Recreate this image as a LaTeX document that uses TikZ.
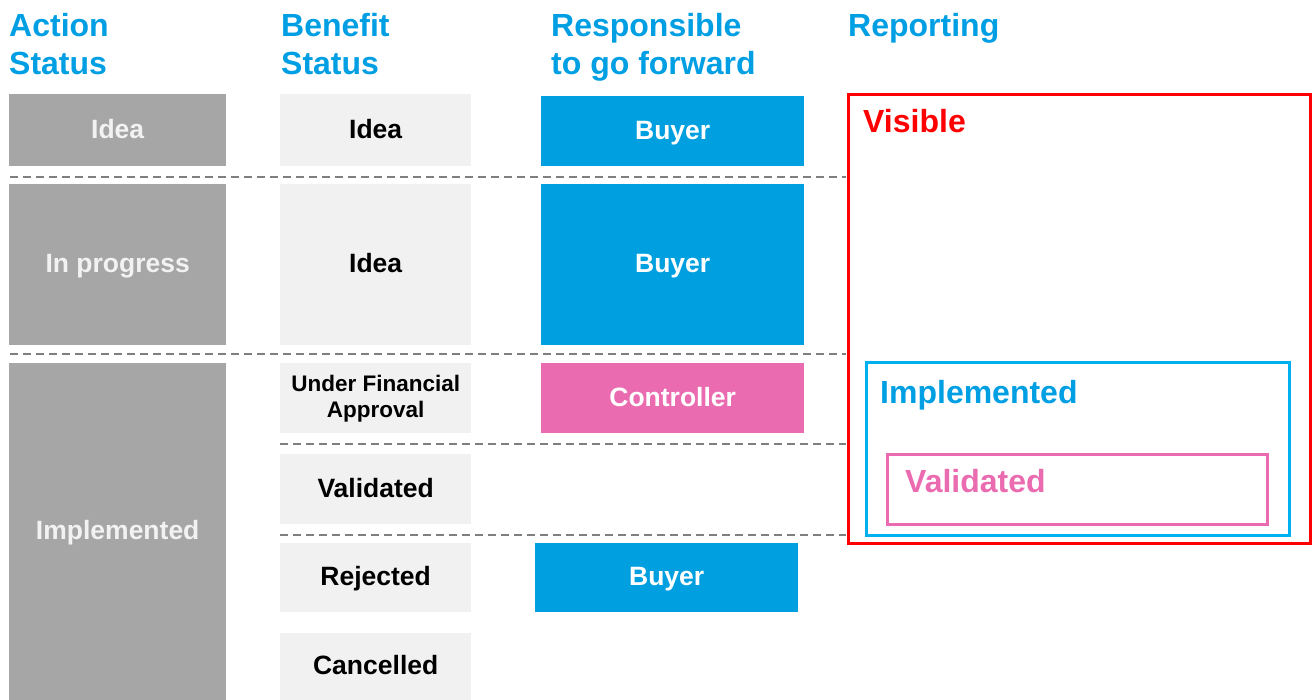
\documentclass[tikz,border=0pt]{standalone}
\usepackage{fontspec}
\setmainfont{Liberation Sans}
\setsansfont{Liberation Sans}
\usetikzlibrary{positioning}
\definecolor{headblue}{HTML}{009FE3}
\definecolor{actgray}{HTML}{A6A6A6}
\definecolor{acttext}{HTML}{F2F2F2}
\definecolor{benlight}{HTML}{F1F1F1}
\definecolor{buyerblue}{HTML}{009FE0}
\definecolor{ctrlpink}{HTML}{EA6BB0}
\definecolor{sepgray}{HTML}{7F7F7F}
\definecolor{visred}{HTML}{FF0000}
\definecolor{implblue}{HTML}{00B0F0}
\tikzset{
 heading/.style={
 anchor=north west,
 inner sep=0pt,
 align=left,
 text=headblue,
 font=\bfseries\fontsize{32}{38}\selectfont},
 actstatus/.style={
 rectangle,
 fill=actgray,
 text=acttext,
 anchor=north west,
 inner sep=0pt,
 minimum width=217pt,
 text height=16pt,
 text depth=0pt,
 font=\bfseries\fontsize{26.5}{30}\selectfont},
 benstatus/.style={
 rectangle,
 fill=benlight,
 text=black,
 anchor=north west,
 inner sep=0pt,
 minimum width=191pt,
 text height=16pt,
 text depth=0pt,
 align=center,
 font=\bfseries\fontsize{26.5}{30}\selectfont},
 respbox/.style={
 rectangle,
 fill=#1,
 text=white,
 anchor=north west,
 inner sep=0pt,
 minimum width=263pt,
 text height=16pt,
 text depth=0pt,
 font=\bfseries\fontsize{26.5}{30}\selectfont},
 separator/.style={
 draw=sepgray,
 line width=1.6pt,
 dash pattern=on 8pt off 5pt},
 reportframe/.style={
 draw=#1,
 line width=3pt},
 framelabel/.style={
 anchor=base west,
 inner sep=0pt,
 text=#1,
 font=\bfseries\fontsize{32}{36}\selectfont}
}
\begin{document}
\begin{tikzpicture}[x=1pt,y=-1pt]
 \useasboundingbox (0,0) rectangle (1312,700);

 % column headings
 \node[heading] (acthead) at (9,13) {Action\\Status};
 \node[heading] (benhead) at (281,13) {Benefit\\Status};
 \node[heading] (resphead) at (551,13) {Responsible\\to go forward};
 \node[heading] (rephead) at (848,13) {Reporting};

 % action status
 \node[actstatus, minimum height=72pt] (actidea) at (9,94) {Idea};
 \node[actstatus, minimum height=161pt] (actprog) at (9,184) {In progress};
 \node[actstatus, minimum height=337pt] (actimpl) at (9,363) {Implemented};

 % benefit status
 \node[benstatus, minimum height=72pt] (benidea) at (280,94) {Idea};
 \node[benstatus, minimum height=161pt] (benprog) at (280,184) {Idea};
 \node[benstatus, minimum height=70pt, text height={}, text depth={}, font=\bfseries\fontsize{22.5}{26}\selectfont] (benufa) at (280,363) {Under Financial\\Approval};
 \node[benstatus, minimum height=70pt] (benval) at (280,454) {Validated};
 \node[benstatus, minimum height=69pt] (benrej) at (280,543) {Rejected};
 \node[benstatus, minimum height=67pt] (bencanc) at (280,633) {Cancelled};

 % responsible
 \node[respbox=buyerblue, minimum height=70pt] (respidea) at (541,96) {Buyer};
 \node[respbox=buyerblue, minimum height=161pt] (respprog) at (541,184) {Buyer};
 \node[respbox=ctrlpink, minimum height=70pt] (respctrl) at (541,363) {Controller};
 \node[respbox=buyerblue, minimum height=69pt] (resprej) at (535,543) {Buyer};

 % separators
 \draw[separator] (10,177) -- (846,177);
 \draw[separator] (10,354) -- (846,354);
 \draw[separator] (280,444) -- (846,444);
 \draw[separator] (280,535) -- (846,535);

 % reporting
 \draw[reportframe=visred] (848,95) rectangle (1310,543);
 \draw[reportframe=implblue] (866,363) rectangle (1289,535);
 \draw[reportframe=ctrlpink] (887,454) rectangle (1267,524);
 \node[framelabel=visred] (visible) at (863,133) {Visible};
 \node[framelabel=headblue] (implemented) at (880,403) {Implemented};
 \node[framelabel=ctrlpink] (validated) at (905,492) {Validated};
\end{tikzpicture}
\end{document}
